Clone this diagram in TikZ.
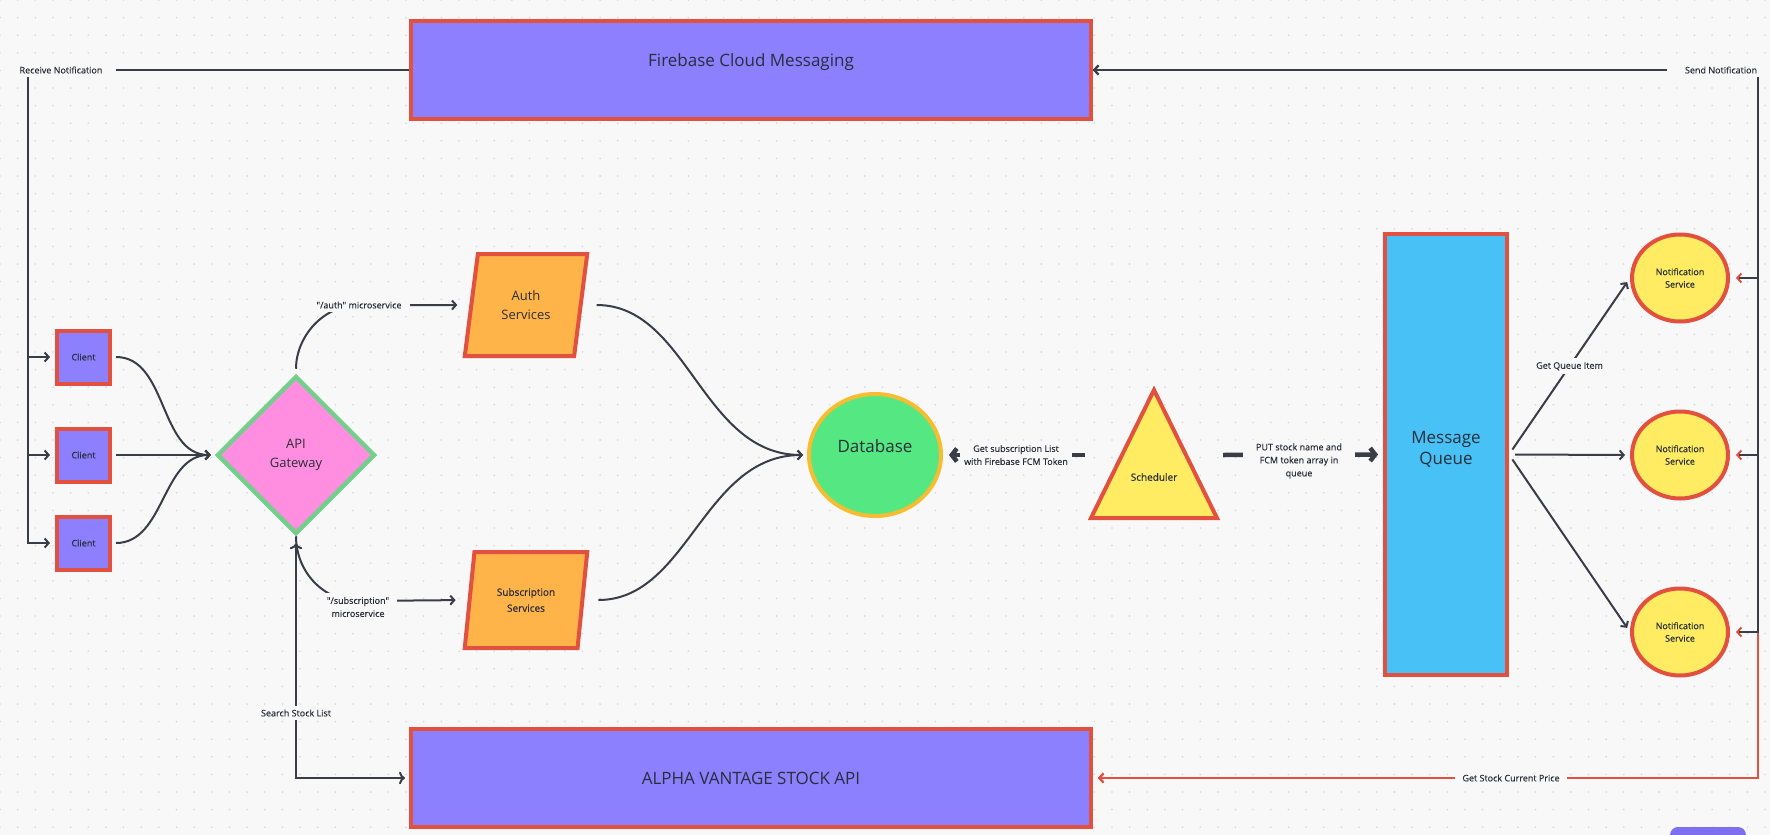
\documentclass[tikz,border=0pt]{standalone}
\usepackage{fontspec}
\setmainfont{Open Sans}
\newfontfamily\semifont{Open Sans}[FakeBold=0.7]
\newfontfamily\lblfont{Open Sans}[FakeBold=0.3]
\usetikzlibrary{shapes.geometric,arrows.meta}

\definecolor{bgcol}{HTML}{F8F8F8}
\definecolor{dotcol}{HTML}{D6D6D6}
\definecolor{redln}{HTML}{E2503F}
\definecolor{purp}{HTML}{8C80FF}
\definecolor{orng}{HTML}{FFB44A}
\definecolor{dbgreen}{HTML}{55E882}
\definecolor{dbrim}{HTML}{F7BC30}
\definecolor{pinkf}{HTML}{FF8EE0}
\definecolor{gwrim}{HTML}{74CF8C}
\definecolor{skyb}{HTML}{48C2F6}
\definecolor{yell}{HTML}{FFEC62}
\definecolor{ink}{HTML}{3A3D48}
\definecolor{txt}{HTML}{2A2E3A}
\definecolor{btn}{HTML}{7D6FF0}

\begin{document}
\begin{tikzpicture}[x=1pt,y=-1pt,
    every node/.style={text=txt},
    box/.style={draw=redln,line width=4pt,fill=purp,inner sep=0pt},
    client/.style={box,minimum size=53pt,font=\semifont\fontsize{9}{11}\selectfont},
    bar/.style={box,minimum width=680pt,minimum height=98pt,font=\fontsize{17}{20}\selectfont},
    svc/.style={trapezium,trapezium left angle=77,trapezium right angle=103,trapezium stretches=true,
        draw=redln,line width=4pt,fill=orng,inner sep=0pt,minimum width=123pt,align=center},
    gate/.style={diamond,draw=gwrim,line width=4.5pt,fill=pinkf,inner sep=0pt,minimum width=158pt,
        minimum height=158pt,align=center,font=\fontsize{13}{19}\selectfont},
    store/.style={ellipse,draw=dbrim,line width=4pt,fill=dbgreen,inner sep=0pt,minimum width=132pt,
        minimum height=122pt,text depth=18pt,font=\fontsize{17}{20}\selectfont},
    queue/.style={box,fill=skyb,minimum width=122pt,minimum height=441pt,align=center,
        text depth=14pt,font=\fontsize{17}{21}\selectfont},
    notif/.style={ellipse,draw=redln,line width=4pt,fill=yell,inner sep=0pt,minimum width=96pt,
        minimum height=87pt,align=center,font=\semifont\fontsize{9}{12.5}\selectfont},
    tri/.style={draw=redln,line width=4pt,fill=yell},
    wire/.style={draw=ink,line width=2pt,-{Straight Barb[length=4pt,width=9pt]}},
    heavy/.style={draw=ink,line width=4.5pt,-{Straight Barb[length=5pt,width=13pt]}},
    redwire/.style={draw=redln,line width=2pt,{Straight Barb[length=4pt,width=9pt]}-{Straight Barb[length=4pt,width=9pt]}},
    lbl/.style={fill=bgcol,inner xsep=8pt,inner ysep=4pt,align=center,font=\lblfont\fontsize{9}{13}\selectfont}]

    \useasboundingbox (0,0) rectangle (1770,835);
    \clip (0,0) rectangle (1770,835);

    % Fondo con puntos
    \fill[bgcol] (0,0) rectangle (1770,835);
    \foreach \i in {0,...,100}
        \foreach \j in {0,...,47}
            \fill[dotcol] (\i*17.65,\j*17.6) circle[radius=0.9pt];

    % Servicios externos
    \node[bar,text depth=20pt] (fcm) at (751,70) {Firebase Cloud Messaging};
    \node[bar] (alpha) at (751,778) {ALPHA VANTAGE STOCK API};

    % Clientes y gateway
    \node[client] (client1) at (83.5,357) {Client};
    \node[client] (client2) at (83.5,455) {Client};
    \node[client] (client3) at (83.5,543) {Client};
    \node[gate] (api) at (296,455) {API\\Gateway};

    % Microservicios
    \node[svc,minimum height=102pt,font=\fontsize{13}{19}\selectfont] (auth) at (526,305) {Auth\\Services};
    \node[svc,minimum height=96pt,font=\semifont\fontsize{10}{16}\selectfont] (sub) at (526,600) {Subscription\\Services};
    \node[store] (db) at (875,455) {Database};

    % Scheduler
    \draw[tri] (1154,390) -- (1217,518) -- (1091,518) -- cycle;
    \node[font=\semifont\fontsize{10}{12}\selectfont] (sched) at (1154,477) {Scheduler};
    \coordinate (schedL) at (1085,455);
    \coordinate (schedR) at (1223,455);

    % Cola y notificaciones
    \node[queue] (mq) at (1446,454.5) {Message\\Queue};
    \node[notif] (ns1) at (1680,278) {Notification\\Service};
    \node[notif] (ns2) at (1680,455) {Notification\\Service};
    \node[notif] (ns3) at (1680,632) {Notification\\Service};

    % Recibir notificacion
    \coordinate (rxc) at (28,70);
    \foreach \c in {client1,client2,client3}
        \draw[wire,shorten >=5pt] (fcm.west) -- (rxc) |- (\c.west);
    \node[lbl,inner xsep=14pt] (rxlbl) at (61,70) {Receive Notification};

    % Precio actual (rojo) y enviar notificacion
    \coordinate (pxc) at (1758,778);
    \coordinate (txc) at (1758,70);
    \foreach \n in {ns1,ns2,ns3}
        \draw[redwire,shorten <=5pt,shorten >=6pt] (alpha.east) -- (pxc) |- (\n.east);
    \foreach \n in {ns1,ns2,ns3}
        \draw[wire,shorten <=9pt] (\n.east) -| (txc) -- (fcm.east);
    \node[lbl,inner xsep=18pt] (txlbl) at (1721,70) {Send Notification};
    \node[lbl,inner xsep=7pt] (pxlbl) at (1511,778) {Get Stock Current Price};

    % Clientes al gateway
    \foreach \c in {client1,client2,client3}
        \draw[wire,shorten <=4pt,shorten >=4pt] (\c.east) to[out=0,in=180] (api.west);

    % Gateway a microservicios
    \draw[wire,shorten <=5pt,shorten >=12pt] (api.north) to[out=90,in=180] (359,305)
        node[lbl] (authlbl) {"/auth" microservice} -- (auth.west);
    \draw[wire,shorten >=12pt] (api.south) to[out=-90,in=180] (358,601) -- (sub.west);
    \node[lbl] (sublbl) at (358,607) {"/subscription"\\microservice};

    % Buscar acciones
    \coordinate (ssc) at (296,778);
    \draw[wire,<->,shorten <=7pt,shorten >=4pt] (api.south) -- (ssc) -- (alpha.west);
    \node[lbl] (sslbl) at (296,713) {Search Stock List};

    % Microservicios a base de datos
    \draw[wire,shorten <=14pt,shorten >=4pt] (auth.east) to[out=0,in=180] (db.west);
    \draw[wire,shorten <=14pt,shorten >=4pt] (sub.east) to[out=0,in=180] (db.west);

    % Scheduler
    \draw[heavy,shorten >=6pt] (schedL) -- (db.east);
    \node[lbl,inner xsep=4pt] (getlbl) at (1016,455) {Get subscription List\\with Firebase FCM Token};
    \draw[heavy,shorten >=5pt] (schedR) -- (mq.west);
    \node[lbl,inner xsep=13pt] (putlbl) at (1299,461) {PUT stock name and\\FCM token array in\\queue};

    % Cola a servicios de notificacion
    \draw[wire,shorten <=6pt,shorten >=5pt] (mq.east) -- (ns1.west) node[lbl,midway] (qlbl) {Get Queue Item};
    \draw[wire,shorten <=6pt,shorten >=5pt] (mq.east) -- (ns2.west);
    \draw[wire,shorten <=6pt,shorten >=5pt] (mq.east) -- (ns3.west);

    % Boton
    \fill[btn,rounded corners=8pt] (1670,827) rectangle (1746,850);
\end{tikzpicture}
\end{document}
